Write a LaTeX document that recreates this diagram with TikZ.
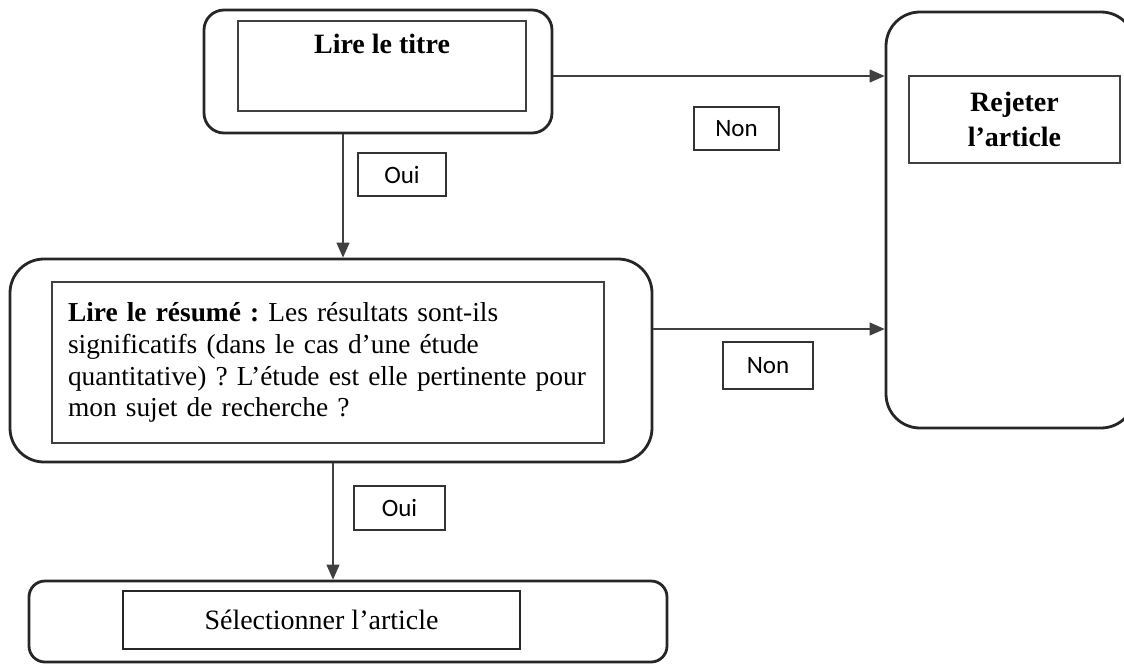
\documentclass[tikz,border=0pt]{standalone}
\usepackage{fontspec}
\setmainfont{Liberation Serif}
\newfontfamily\labelfont{Carlito}
\usetikzlibrary{arrows.meta,positioning}
\frenchspacing

\begin{document}
\begin{tikzpicture}[x=0.5pt,y=-0.5pt,
    outerbox/.style={draw=black!85,line width=1.4pt,rounded corners=#1},
    outerbox/.default=10pt,
    innerbox/.style={draw=black!75,line width=0.7pt},
    labelbox/.style={draw=black!80,line width=0.6pt,inner sep=0pt,font=\labelfont\fontsize{12.5}{15}\selectfont},
    boxtext/.style={font=\fontsize{14}{16}\selectfont},
    longtext/.style={font=\fontsize{13.7}{15.9}\selectfont},
    boldtext/.style={font=\fontsize{14}{17.5}\selectfont\bfseries},
    flow/.style={draw=black!75,line width=0.6pt,-{Triangle[length=7.5pt,width=6.5pt]}}]
%      \draw[help lines] (0,0) grid[step=50] (1124,664);
      \useasboundingbox (0,0) rectangle (1124,664);

      % lire le titre
      \node[outerbox,minimum width=174pt,minimum height=61.5pt] (titreout) at (378,71.5) {};
      \node[innerbox,minimum width=144pt,minimum height=45pt] (titre) at (382,66) {};
      \node[boldtext,anchor=base] (titretxt) at ([yshift=-16.5pt]titre.north) {Lire le titre};

      % rejeter
      \node[outerbox=17pt,minimum width=124.5pt,minimum height=208pt] (rejetout) at (1010.5,220) {};
      \node[innerbox,boldtext,align=center,minimum width=105.5pt,minimum height=43.5pt] (rejet) at (1014.5,119.5) {Rejeter\\l’article};

      % lire le resume
      \node[outerbox=17pt,minimum width=321pt,minimum height=101.5pt] (resumeout) at (331,360.5) {};
      \node[innerbox,longtext,align=left,text width=260pt,inner xsep=8pt,minimum height=80.5pt] (resume) at (328,362.5)
        {\textbf{Lire le résumé :} Les résultats sont-ils\\
         significatifs (dans le cas d’une étude\\
         quantitative) ? L’étude est elle pertinente pour\\
         mon sujet de recherche ?};

      % selectionner
      \node[outerbox=8pt,minimum width=319pt,minimum height=40.5pt] (selectout) at (348,621.5) {};
      \node[innerbox,boxtext,draw=black!85,line width=1.4pt,minimum width=198.5pt,minimum height=29pt] (select) at (321.5,620) {Sélectionner l’article};

      % connectors
      \coordinate (t1) at ([yshift=-2.25pt]titreout.east);
      \coordinate (t2) at ([yshift=15.75pt]resumeout.east);
      \coordinate (d1) at ([xshift=-17.5pt]titreout.south);
      \coordinate (d2) at ([xshift=1pt]resumeout.south);
      \draw[flow] (t1) -- (t1 -| rejetout.west);
      \draw[flow] (t2) -- (t2 -| rejetout.west);
      \draw[flow] (d1) -- (d1 |- resumeout.north);
      \draw[flow] (d2) -- (d2 |- selectout.north);

      \node[labelbox,minimum width=42.5pt,minimum height=21.5pt] (non1) at (736.5,128.5) {Non};
      \node[labelbox,minimum width=44pt,minimum height=21.5pt] (oui1) at (402,174.5) {Oui};
      \node[labelbox,minimum width=45pt,minimum height=23.5pt] (non2) at (768,365.5) {Non};
      \node[labelbox,minimum width=45.5pt,minimum height=22pt] (oui2) at (399.5,508) {Oui};
\end{tikzpicture}
\end{document}
